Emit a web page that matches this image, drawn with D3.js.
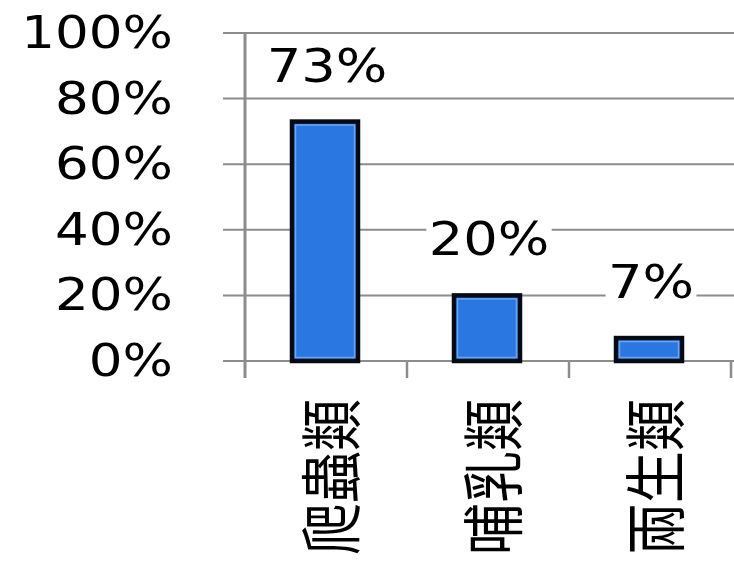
<!DOCTYPE html>
<html><head><meta charset="utf-8">
<script src="https://cdn.jsdelivr.net/npm/d3@7"></script>
<style>html,body{margin:0;padding:0;background:#fff;}svg{display:block;}</style>
</head><body>
<svg id="c" width="734" height="564"></svg>
<script>
const categories = ["爬蟲類", "哺乳類", "兩生類"];
const values = [73, 20, 7];
const yTicks = [0, 20, 40, 60, 80, 100];

const svg = d3.select("#c");
const W = 734, H = 564;
const sx = 1.18;
const x = d3.scaleBand().domain(categories).range([245, 731]).padding(0);
const y = d3.scaleLinear().domain([0, 100]).range([361, 33]);

// gridlines + y ticks
svg.append("g").selectAll("line").data(yTicks).join("line")
  .attr("x1", 223).attr("x2", W)
  .attr("y1", d => y(d)).attr("y2", d => y(d))
  .attr("stroke", "#8c8c8c").attr("stroke-width", 2);

// vertical axis
svg.append("line").attr("x1", 245).attr("x2", 245).attr("y1", y(100)).attr("y2", 378)
  .attr("stroke", "#8c8c8c").attr("stroke-width", 3);

// category ticks
const bounds = categories.map(c => x(c)).concat([x(categories[categories.length-1]) + x.bandwidth()]);
svg.append("g").selectAll("line").data(bounds.slice(1)).join("line")
  .attr("x1", d => d).attr("x2", d => d).attr("y1", y(0)).attr("y2", 378)
  .attr("stroke", "#8c8c8c").attr("stroke-width", 2.5);

// y labels
svg.append("g").selectAll("text").data(yTicks).join("text")
  .attr("transform", d => `translate(173,${y(d) + 15}) scale(${sx},1)`)
  .attr("text-anchor", "end")
  .attr("font-family", "DejaVu Sans, Verdana, sans-serif")
  .attr("font-size", 45).attr("fill", "#000")
  .text(d => d + "%");

// bars
const bw = 66;
const bars = svg.append("g").selectAll("g").data(values).join("g");
bars.append("rect")
  .attr("x", (d, i) => x(categories[i]) + x.bandwidth() / 2 - bw / 2 - 1)
  .attr("y", d => y(d))
  .attr("width", bw).attr("height", d => y(0) - y(d))
  .attr("fill", "#2a77e2").attr("stroke", "#050a14").attr("stroke-width", 4.5);
bars.append("rect")
  .attr("x", (d, i) => x(categories[i]) + x.bandwidth() / 2 - bw / 2 - 1 + 3.5)
  .attr("y", d => y(d) + 3.5)
  .attr("width", bw - 7).attr("height", d => Math.max(0, y(0) - y(d) - 7))
  .attr("fill", "none").attr("stroke", "#6aa6ee").attr("stroke-width", 1.5);

// value labels with white background
const vl = svg.append("g").selectAll("g").data(values).join("g")
  .attr("transform", (d, i) => `translate(${x(categories[i]) + x.bandwidth() / 2 + 1},${y(d) - 40}) scale(${sx},1)`);
vl.append("text")
  .attr("text-anchor", "middle")
  .attr("font-family", "DejaVu Sans, Verdana, sans-serif")
  .attr("font-size", 46).attr("fill", "#000")
  .text(d => d + "%");
vl.each(function () {
  const g = d3.select(this);
  const bb = g.select("text").node().getBBox();
  g.insert("rect", "text").attr("x", bb.x - 2).attr("y", bb.y + 8)
    .attr("width", bb.width + 4).attr("height", bb.height - 12).attr("fill", "#fff");
});

// category labels (rotated)
svg.append("g").selectAll("text").data(categories).join("text")
  .attr("transform", d => `translate(${x(d) + x.bandwidth() / 2 + 2},399) scale(1.2,1) rotate(-90)`)
  .attr("text-anchor", "end")
  .attr("dominant-baseline", "central")
  .attr("font-family", "Noto Sans CJK TC, Noto Sans CJK JP, sans-serif")
  .attr("font-size", 52).attr("fill", "#000")
  .text(d => d);
</script>
</body></html>
